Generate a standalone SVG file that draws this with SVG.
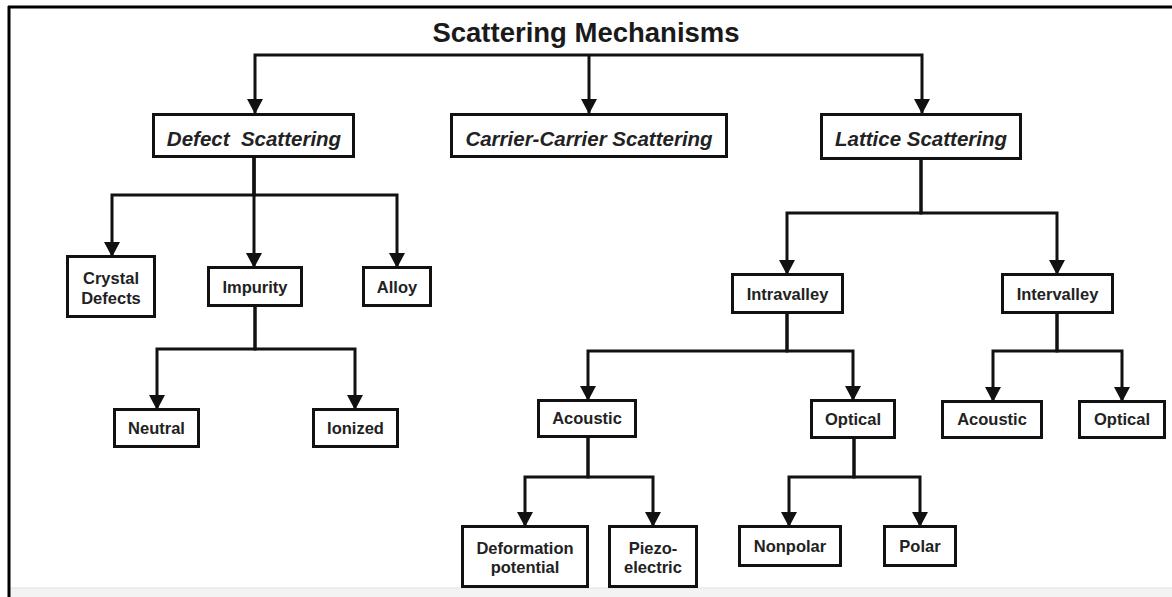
<svg xmlns="http://www.w3.org/2000/svg" width="1172" height="597" viewBox="0 0 1172 597">
<style>
.box{fill:#fff;stroke:#111;stroke-width:3}
.big{font-family:"Liberation Sans",Arial,sans-serif;font-weight:bold;font-style:italic;font-size:20.5px;fill:#222;text-anchor:middle;white-space:pre}
.sm{font-family:"Liberation Sans",Arial,sans-serif;font-weight:bold;font-size:16.5px;fill:#222;text-anchor:middle}
.title{font-family:"Liberation Sans",Arial,sans-serif;font-weight:bold;font-size:27.5px;fill:#1a1a1a;text-anchor:middle}
.edge{fill:none;stroke:#111;stroke-width:3;marker-end:url(#ah)}
</style>
<defs>
<marker id="ah" markerUnits="userSpaceOnUse" markerWidth="15" markerHeight="16" viewBox="0 0 15 16" refX="14" refY="8" orient="auto">
<path d="M0,0 L15,8 L0,16 Z" fill="#111"/>
</marker>
</defs>
<rect x="0" y="0" width="1172" height="597" fill="#fff"/>
<rect x="10" y="588" width="1162" height="9" fill="#f3f3f3"/>
<line x1="10" y1="588" x2="1172" y2="588" stroke="#e2e2e2" stroke-width="1"/>
<line x1="9" y1="6" x2="9" y2="597" stroke="#000" stroke-width="3"/>
<line x1="8" y1="7" x2="1172" y2="7" stroke="#000" stroke-width="3"/>

<g id="title"><text class="title" x="586" y="42">Scattering Mechanisms</text></g>

<g id="connectors">
<path class="edge" d="M589,55 H255 V113"/>
<path class="edge" d="M589,55 V113"/>
<path class="edge" d="M589,55 H922 V113"/>
<path class="edge" d="M254,158 V195 H112 V256"/>
<path class="edge" d="M254,158 V267"/>
<path class="edge" d="M254,158 V195 H397 V267"/>
<path class="edge" d="M255,307 V349 H157 V409"/>
<path class="edge" d="M255,307 V349 H355 V409"/>
<path class="edge" d="M921,160 V213 H787 V274"/>
<path class="edge" d="M921,160 V213 H1057 V274"/>
<path class="edge" d="M787,314 V351 H588 V400"/>
<path class="edge" d="M787,314 V351 H853 V400"/>
<path class="edge" d="M1057,314 V351 H993 V401"/>
<path class="edge" d="M1057,314 V351 H1122 V401"/>
<path class="edge" d="M588,438 V477 H525 V526"/>
<path class="edge" d="M588,438 V477 H653 V526"/>
<path class="edge" d="M854,439 V477 H789 V526"/>
<path class="edge" d="M854,439 V477 H920 V526"/>
</g>

<g id="defect"><rect class="box" x="153.5" y="114.5" width="200" height="42"/><text class="big" x="254" y="146" xml:space="preserve">Defect  Scattering</text></g>
<g id="carrier"><rect class="box" x="451.5" y="114.5" width="275" height="42"/><text class="big" x="589" y="146">Carrier-Carrier Scattering</text></g>
<g id="lattice"><rect class="box" x="821.5" y="114.5" width="199" height="44"/><text class="big" x="921" y="146">Lattice Scattering</text></g>

<g id="crystal"><rect class="box" x="67.5" y="256.5" width="87" height="60"/><text class="sm" x="111" y="284">Crystal</text><text class="sm" x="111" y="304">Defects</text></g>
<g id="impurity"><rect class="box" x="208.5" y="267.5" width="93" height="38"/><text class="sm" x="255" y="292.5">Impurity</text></g>
<g id="alloy"><rect class="box" x="363.5" y="267.5" width="67" height="38"/><text class="sm" x="397" y="292.5">Alloy</text></g>
<g id="neutral"><rect class="box" x="114.5" y="409.5" width="84" height="37"/><text class="sm" x="156.5" y="434">Neutral</text></g>
<g id="ionized"><rect class="box" x="313.5" y="409.5" width="84" height="37"/><text class="sm" x="355.5" y="434">Ionized</text></g>

<g id="intravalley"><rect class="box" x="732.5" y="274.5" width="110" height="38"/><text class="sm" x="787.5" y="299.5">Intravalley</text></g>
<g id="intervalley"><rect class="box" x="1002.5" y="274.5" width="110" height="38"/><text class="sm" x="1057.5" y="299.5">Intervalley</text></g>

<g id="acoustic1"><rect class="box" x="538.5" y="400.5" width="97" height="36"/><text class="sm" x="587" y="424">Acoustic</text></g>
<g id="optical1"><rect class="box" x="811.5" y="400.5" width="83" height="37"/><text class="sm" x="853" y="424.5">Optical</text></g>
<g id="acoustic2"><rect class="box" x="942.5" y="401.5" width="99" height="36"/><text class="sm" x="992" y="425">Acoustic</text></g>
<g id="optical2"><rect class="box" x="1079.5" y="401.5" width="85" height="36"/><text class="sm" x="1122" y="425">Optical</text></g>

<g id="deformation"><rect class="box" x="462.5" y="526.5" width="125" height="60"/><text class="sm" x="525" y="553.5">Deformation</text><text class="sm" x="525" y="572.5">potential</text></g>
<g id="piezo"><rect class="box" x="609.5" y="526.5" width="87" height="60"/><text class="sm" x="653" y="553.5">Piezo-</text><text class="sm" x="653" y="572.5">electric</text></g>
<g id="nonpolar"><rect class="box" x="739.5" y="526.5" width="101" height="39"/><text class="sm" x="790" y="551.5">Nonpolar</text></g>
<g id="polar"><rect class="box" x="884.5" y="526.5" width="71" height="39"/><text class="sm" x="920" y="551.5">Polar</text></g>
</svg>
